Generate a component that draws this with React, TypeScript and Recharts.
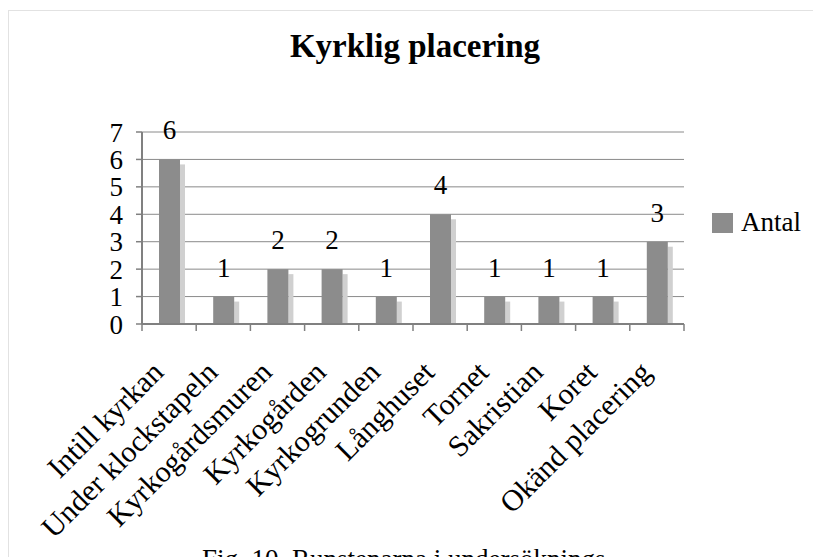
import React from 'react';
import {
  BarChart,
  Bar,
  XAxis,
  YAxis,
  CartesianGrid,
  LabelList
} from 'recharts';

const categories = [
  'Intill kyrkan',
  'Under klockstapeln',
  'Kyrkogårdsmuren',
  'Kyrkogården',
  'Kyrkogrunden',
  'Långhuset',
  'Tornet',
  'Sakristian',
  'Koret',
  'Okänd placering'
];
const antal = [6, 1, 2, 2, 1, 4, 1, 1, 1, 3];
const yTicks = [0, 1, 2, 3, 4, 5, 6, 7];

const data = categories.map((name, i) => ({ name, antal: antal[i] }));

const W = 813;
const H = 557;
const MARGIN = { top: 132, right: 129, left: 82, bottom: 13 };
const Y_AXIS_W = 60;
const PLOT_W = W - MARGIN.left - MARGIN.right - Y_AXIS_W;
const HALF_BAND = PLOT_W / categories.length / 2;

const SERIF = '"Liberation Serif", "Times New Roman", serif';
const BAR = '#8c8c8c';
const SHADOW = '#d0d0d0';
const AXIS = '#808080';

// bar with the soft offset shadow on its right
function ShadowBar(props: any) {
  const { x, y, width, height } = props;
  if (!height || height <= 0) return null;
  return (
    <g>
      <rect x={x + width} y={y + 5} width={5} height={height - 5} fill={SHADOW} />
      <rect x={x} y={y} width={width} height={height} fill={BAR} />
    </g>
  );
}

// rotated label plus the boundary tick marks between categories
function XTick(props: any) {
  const { x, y, payload, index } = props;
  const last = index === categories.length - 1;
  const tx = x - 4;
  const ty = y + 50;
  return (
    <g>
      <line x1={x - HALF_BAND} x2={x - HALF_BAND} y1={y} y2={y + 7} stroke={AXIS} strokeWidth={1.5} />
      {last && (
        <line x1={x + HALF_BAND} x2={x + HALF_BAND} y1={y} y2={y + 7} stroke={AXIS} strokeWidth={1.5} />
      )}
      <text
        x={tx}
        y={ty}
        textAnchor="end"
        transform={`rotate(-45, ${tx}, ${ty})`}
        fontFamily={SERIF}
        fontSize={30}
        fill="#000"
      >
        {payload.value}
      </text>
    </g>
  );
}

export default function App() {
  return (
    <div
      style={{
        position: 'absolute',
        left: 0,
        top: 0,
        width: W,
        height: H,
        overflow: 'hidden',
        background: '#fff'
      }}
    >
      <div
        style={{
          position: 'absolute',
          left: 8,
          top: 10,
          width: 900,
          height: 700,
          border: '1px solid #e2e2e2'
        }}
      />
      <svg width={W} height={H} style={{ position: 'absolute', left: 0, top: 0 }}>
        <text x={415} y={57} textAnchor="middle" fontFamily={SERIF} fontWeight="bold" fontSize={33} fill="#000">
          Kyrklig placering
        </text>
        <text x={202} y={568} fontFamily={SERIF} fontSize={27} fill="#000">
          Fig. 10. Runstenarna i undersöknings
        </text>
      </svg>
      <div style={{ position: 'absolute', left: 0, top: 0 }}>
        <BarChart width={W} height={H} data={data} margin={MARGIN}>
          <CartesianGrid vertical={false} stroke="#8a8a8a" strokeWidth={1} />
          <XAxis
            dataKey="name"
            interval={0}
            height={H - MARGIN.top - MARGIN.bottom - 192}
            tickLine={false}
            tickSize={0}
            tickMargin={0}
            axisLine={{ stroke: AXIS, strokeWidth: 2 }}
            tick={<XTick />}
          />
          <YAxis
            width={Y_AXIS_W}
            domain={[0, 7]}
            ticks={yTicks}
            interval={0}
            tickSize={6}
            tickMargin={13}
            axisLine={{ stroke: AXIS, strokeWidth: 2 }}
            tickLine={{ stroke: AXIS, strokeWidth: 1.5 }}
            tick={{ fontFamily: SERIF, fontSize: 27, fill: '#000' }}
          />
          <YAxis
            yAxisId="right"
            orientation="right"
            width={0}
            domain={[0, 7]}
            tick={false}
            tickLine={false}
            axisLine={{ stroke: AXIS, strokeWidth: 2 }}
          />
          <Bar dataKey="antal" name="Antal" fill={BAR} barSize={21} shape={<ShadowBar />} isAnimationActive={false}>
            <LabelList dataKey="antal" position="top" offset={20} fontFamily={SERIF} fontSize={27} fill="#000" />
          </Bar>
        </BarChart>
      </div>
      <div
        style={{
          position: 'absolute',
          left: 712,
          top: 207,
          display: 'flex',
          alignItems: 'center',
          fontFamily: SERIF,
          fontSize: 27,
          color: '#000'
        }}
      >
        <span style={{ display: 'inline-block', width: 21, height: 20, background: BAR, marginRight: 8 }} />
        <span>Antal</span>
      </div>
    </div>
  );
}
